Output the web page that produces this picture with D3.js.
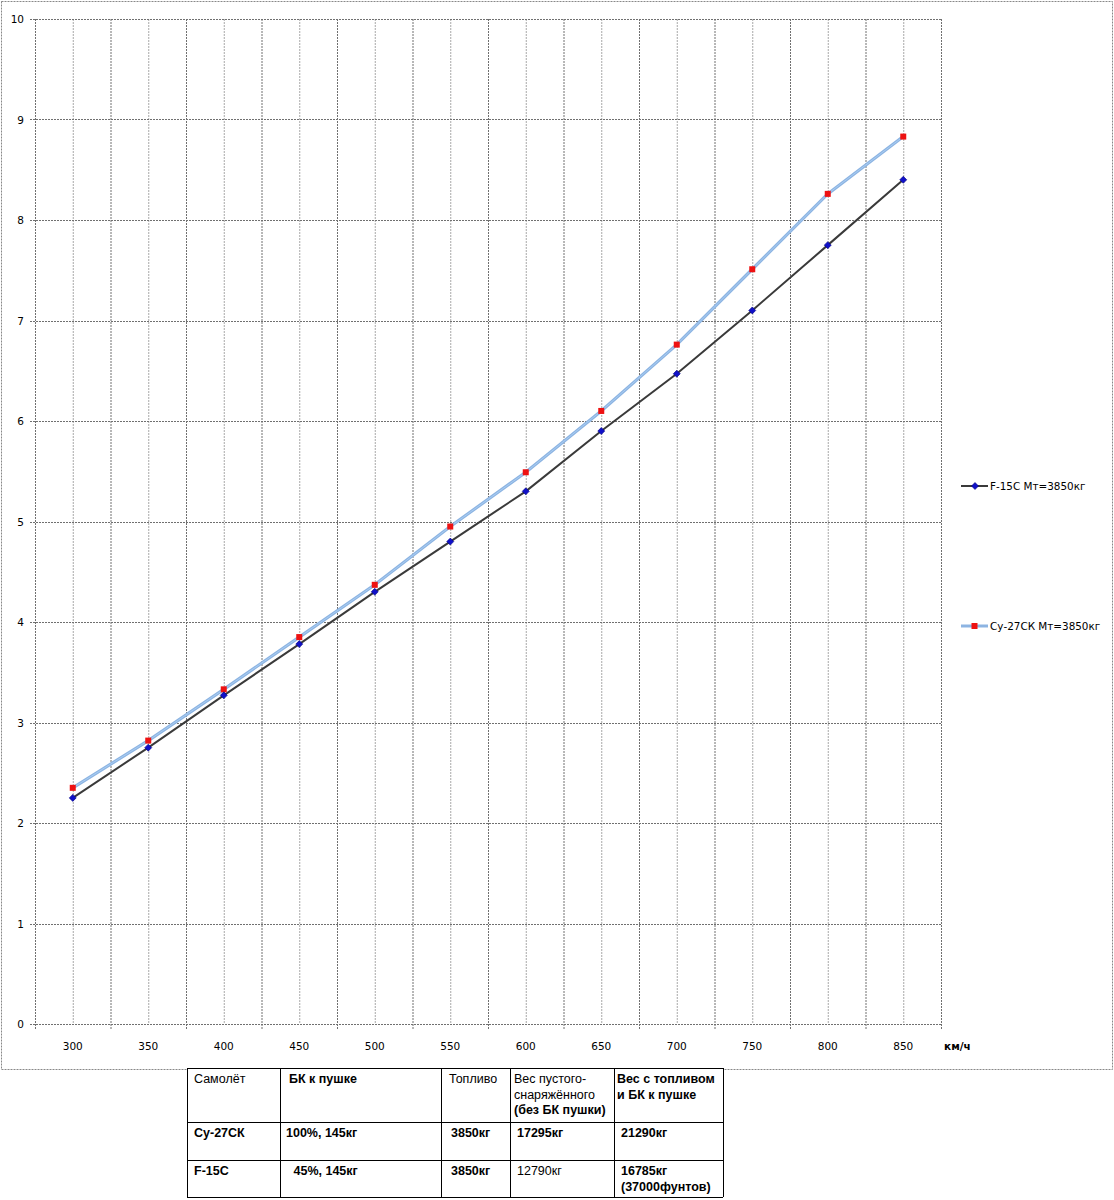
<!DOCTYPE html>
<html><head><meta charset="utf-8">
<script src="https://cdn.jsdelivr.net/npm/d3@7/dist/d3.min.js"></script>
<style>body{margin:0;background:#fff}svg{display:block}</style>
</head><body>
<script>
const categories = [300,350,400,450,500,550,600,650,700,750,800,850];
const f15 = [2.25,2.75,3.27,3.78,4.30,4.80,5.30,5.90,6.47,7.10,7.75,8.40];
const su27 = [2.35,2.82,3.33,3.85,4.37,4.95,5.49,6.10,6.76,7.51,8.26,8.83];
const yTicks = [0,1,2,3,4,5,6,7,8,9,10];
const seriesNames = ["F-15C Мт=3850кг","Су-27СК Мт=3850кг"];
const tableRows = [
  [["Самолёт"],["БК к пушке"],["Топливо"],["Вес пустого-","снаряжённого","(без БК пушки)"],["Вес с топливом","и БК к пушке"]],
  [["Су-27СК"],["100%, 145кг"],["3850кг"],["17295кг"],["21290кг"]],
  [["F-15C"],[" 45%, 145кг"],["3850кг"],["12790кг"],["16785кг","(37000фунтов)"]]
];

const W=1114,H=1200;
const svg=d3.select("body").append("svg").attr("width",W).attr("height",H);
const font="Tahoma, 'DejaVu Sans', sans-serif";
const L=35,R=941,T=19,B=1024;
const x=d3.scaleBand().domain(categories).range([L,R]);
const y=d3.scaleLinear().domain([0,10]).range([B,T]);

// outer border
svg.append("rect").attr("x",1.5).attr("y",1.5).attr("width",1111).attr("height",1068)
  .attr("fill","none").attr("stroke","#888").attr("stroke-dasharray","2,1");

// minor vertical grid (category centers)
svg.append("g").selectAll("line").data(categories).join("line")
  .attr("x1",d=>x(d)+x.bandwidth()/2+0.5).attr("x2",d=>x(d)+x.bandwidth()/2+0.5)
  .attr("y1",T).attr("y2",B).attr("stroke","#a8a8a8").attr("stroke-dasharray","2,1");
// major vertical grid (band boundaries)
svg.append("g").selectAll("line").data(categories.slice(1)).join("line")
  .attr("x1",d=>x(d)+0.5).attr("x2",d=>x(d)+0.5)
  .attr("y1",T).attr("y2",B+5).attr("stroke","#707070").attr("stroke-dasharray","2,1");
// horizontal grid
svg.append("g").selectAll("line").data(yTicks).join("line")
  .attr("x1",L-5).attr("x2",R).attr("y1",d=>Math.round(y(d))+0.5).attr("y2",d=>Math.round(y(d))+0.5)
  .attr("stroke","#707070").attr("stroke-dasharray","2,1");
// plot frame left/right
svg.append("line").attr("x1",L+0.5).attr("x2",L+0.5).attr("y1",T).attr("y2",B+5).attr("stroke","#707070").attr("stroke-dasharray","2,1");
svg.append("line").attr("x1",R+0.5).attr("x2",R+0.5).attr("y1",T).attr("y2",B+5).attr("stroke","#707070").attr("stroke-dasharray","2,1");

// y axis labels
svg.append("g").selectAll("text").data(yTicks).join("text")
  .attr("x",24).attr("y",d=>y(d)+4).attr("text-anchor","end")
  .attr("font-family",font).attr("font-size",10.5).attr("fill","#000").text(d=>d);
// x axis labels
svg.append("g").selectAll("text").data(categories).join("text")
  .attr("x",d=>x(d)+x.bandwidth()/2).attr("y",1050).attr("text-anchor","middle")
  .attr("font-family",font).attr("font-size",10.5).attr("fill","#000").text(d=>d);
svg.append("text").attr("x",944).attr("y",1050).attr("font-family",font).attr("font-size",10.5)
  .attr("font-weight","bold").text("км/ч");

const cx=d=>x(d)+x.bandwidth()/2;
const line=d3.line().x((d,i)=>cx(categories[i])).y(d=>y(d));
// Su-27 line
svg.append("path").datum(su27).attr("d",line).attr("fill","none").attr("stroke","#8db4e2").attr("stroke-width",3.2);
svg.append("path").datum(su27).attr("d",line).attr("fill","none").attr("stroke","#a9cdf2").attr("stroke-width",1);
// F-15 line
svg.append("path").datum(f15).attr("d",line).attr("fill","none").attr("stroke","#3a3a3a").attr("stroke-width",2);

const diamond=(g,px,py)=>g.append("path").attr("d",`M${px},${py-3.5}L${px+3.5},${py}L${px},${py+3.5}L${px-3.5},${py}Z`)
  .attr("fill","#1010c8").attr("stroke","#000080").attr("stroke-width",0.6);
const square=(g,px,py)=>g.append("rect").attr("x",px-3).attr("y",py-3).attr("width",6).attr("height",6).attr("fill","#ee1111");
const mk=svg.append("g");
su27.forEach((v,i)=>square(mk,cx(categories[i]),y(v)));
f15.forEach((v,i)=>diamond(mk,cx(categories[i]),y(v)));

// legend
const lg=svg.append("g");
lg.append("line").attr("x1",961).attr("x2",988).attr("y1",486).attr("y2",486).attr("stroke","#3a3a3a").attr("stroke-width",2);
diamond(lg,975,486);
lg.append("text").attr("x",990).attr("y",490).attr("font-family",font).attr("font-size",10.4).text(seriesNames[0]);
lg.append("line").attr("x1",961).attr("x2",988).attr("y1",626).attr("y2",626).attr("stroke","#8db4e2").attr("stroke-width",3);
square(lg,974.5,626);
lg.append("text").attr("x",990).attr("y",630).attr("font-family",font).attr("font-size",10.4).text(seriesNames[1]);

// table
const colX=[187,280,441,510,614,723];
const rowY=[1068,1122,1160,1197];
const tg=svg.append("g");
tg.append("rect").attr("x",colX[0]).attr("y",rowY[0]).attr("width",colX[5]-colX[0]).attr("height",rowY[3]-rowY[0]).attr("fill","#fff");
rowY.forEach(r=>tg.append("line").attr("x1",colX[0]).attr("x2",colX[5]).attr("y1",r+0.5).attr("y2",r+0.5).attr("stroke","#000"));
colX.forEach(c=>tg.append("line").attr("x1",c+0.5).attr("x2",c+0.5).attr("y1",rowY[0]).attr("y2",rowY[3]).attr("stroke","#000"));
const boldMap=[[false,true,false,false,true],[true,true,true,true,true],[true,true,true,false,true]];
const offs=[[7,9,8,4,3],[7,6,10,7,7],[7,10,10,7,7]];
tableRows.forEach((row,ri)=>row.forEach((lines,ci)=>{
  lines.forEach((t,li)=>{
    tg.append("text").attr("x",colX[ci]+offs[ri][ci]).attr("y",rowY[ri]+15+li*15.5)
      .attr("font-family","Arial, 'Liberation Sans', sans-serif").attr("font-size",12.5)
      .attr("font-weight",(boldMap[ri][ci]|| (ri===0&&ci===3&&li===2))?"bold":"normal")
      .attr("xml:space","preserve").style("white-space","pre").text(t);
  });
}));
</script>
</body></html>
